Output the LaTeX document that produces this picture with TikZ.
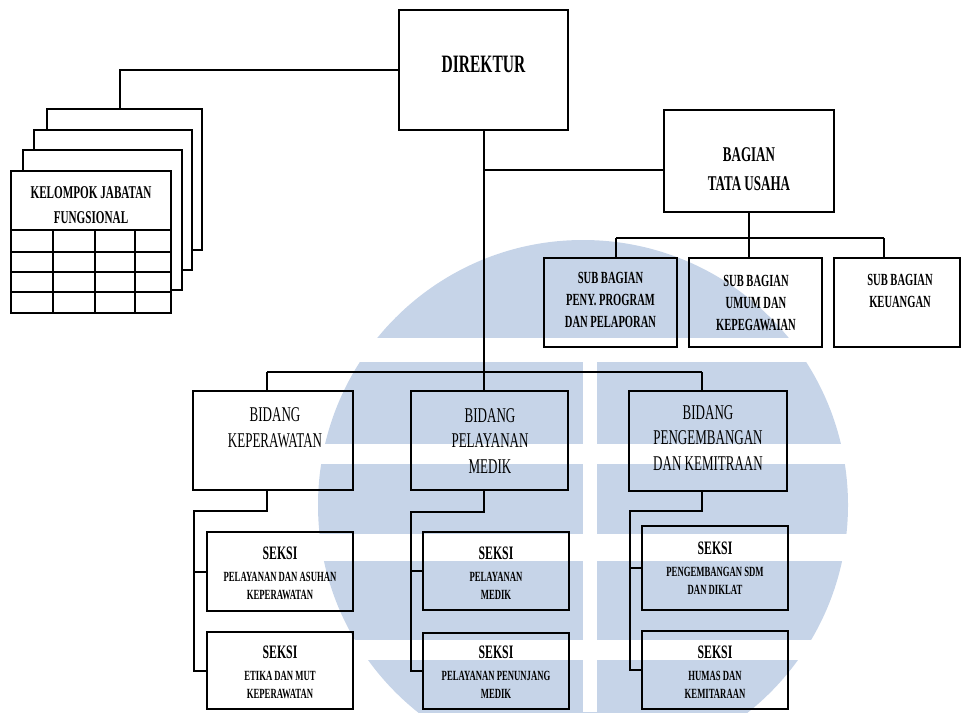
\documentclass[tikz,border=0pt]{standalone}
\usepackage{fontspec}
\newfontfamily\cf{Liberation Serif}[FakeStretch=0.62]
\definecolor{wm}{RGB}{198,212,232}
\begin{document}
\begin{tikzpicture}[x=1pt,y=-1pt,line width=2pt,
  box/.style={draw,line width=2pt,inner sep=0pt,outer sep=0pt},
  sheet/.style={box,fill=white},
  conn/.style={line width=2pt},
  txt/.style={inner sep=0pt,align=center},
  tDir/.style={txt,font=\cf\bfseries\fontsize{25}{30}\selectfont},
  tTU/.style={txt,font=\cf\bfseries\fontsize{21}{29}\selectfont},
  tKel/.style={txt,font=\cf\bfseries\fontsize{18}{25}\selectfont},
  tSub/.style={txt,font=\cf\bfseries\fontsize{17}{22}\selectfont},
  tBid/.style={txt,font=\cf\fontsize{21}{25.5}\selectfont},
  tSek/.style={txt,font=\cf\bfseries\fontsize{14}{18}\selectfont}]
\useasboundingbox (0,0) rectangle (963,712);
% watermark
\begin{scope}
  \clip (0,0) rectangle (963,712);
  \fill[wm] (583,505) circle[radius=265pt];
  \fill[white] (0,338) rectangle (963,362);
  \fill[white] (0,444) rectangle (963,464);
  \fill[white] (0,534) rectangle (963,561);
  \fill[white] (0,640) rectangle (963,660);
  \fill[white] (583,362) rectangle (597,712);
\end{scope}
% stacked sheets
\node[sheet,minimum width=155pt,minimum height=141pt] (s4) at (124.5,179.5) {};
\node[sheet,minimum width=158pt,minimum height=140pt] (s3) at (113,200) {};
\node[sheet,minimum width=159pt,minimum height=140pt] (s2) at (102.5,220) {};
\node[sheet,minimum width=160pt,minimum height=142pt] (s1) at (91,242) {};
\draw (11,230) -- (171,230);
\draw (11,252) -- (171,252);
\draw (11,272) -- (171,272);
\draw (11,292) -- (171,292);
\draw (53,230) -- (53,313);
\draw (95,230) -- (95,313);
\draw (135,230) -- (135,313);
\node[tKel] (kelT) at (91,205.5) {KELOMPOK JABATAN\\FUNGSIONAL};
% boxes
\node[box,minimum width=169pt,minimum height=120pt] (dir) at (483.5,70) {};
\node[tDir] (dirT) at (483.5,64) {DIREKTUR};
\node[box,minimum width=170pt,minimum height=102pt] (tu) at (749,161) {};
\node[tTU] (tuT) at (749,169.5) {BAGIAN\\TATA USAHA};
\node[box,minimum width=133pt,minimum height=89pt] (sb1) at (610.5,302.5) {};
\node[box,minimum width=133pt,minimum height=89pt] (sb2) at (755.5,302.5) {};
\node[box,minimum width=126pt,minimum height=89pt] (sb3) at (897,302.5) {};
\node[tSub] (sb1T) at (610.5,300) {SUB BAGIAN\\PENY. PROGRAM\\DAN PELAPORAN};
\node[tSub] (sb2T) at (756,302.5) {SUB BAGIAN\\UMUM DAN\\KEPEGAWAIAN};
\node[tSub] (sb3T) at (900,291) {SUB BAGIAN\\KEUANGAN};
\node[box,minimum width=160pt,minimum height=99pt] (bd1) at (273,440.5) {};
\node[box,minimum width=157pt,minimum height=99pt] (bd2) at (489.5,440.5) {};
\node[box,minimum width=158pt,minimum height=100pt] (bd3) at (708,441) {};
\node[tBid] (bd1T) at (275,427.5) {BIDANG\\KEPERAWATAN};
\node[tBid] (bd2T) at (490,441) {BIDANG\\PELAYANAN\\MEDIK};
\node[tBid] (bd3T) at (708,438) {BIDANG\\PENGEMBANGAN\\DAN KEMITRAAN};
\node[box,minimum width=146pt,minimum height=79pt] (sk11) at (280,571.5) {};
\node[box,minimum width=146pt,minimum height=77pt] (sk12) at (280,670.5) {};
\node[box,minimum width=146pt,minimum height=78pt] (sk21) at (496,571) {};
\node[box,minimum width=146pt,minimum height=76pt] (sk22) at (496,671) {};
\node[box,minimum width=146pt,minimum height=84pt] (sk31) at (715,568) {};
\node[box,minimum width=146pt,minimum height=78pt] (sk32) at (715,670) {};
\node[tSek] (sk11T) at (280,573) {{\fontsize{19}{19}\selectfont SEKSI}\\[4.3pt]PELAYANAN DAN ASUHAN\\KEPERAWATAN};
\node[tSek] (sk12T) at (280,672) {{\fontsize{19}{19}\selectfont SEKSI}\\[4.3pt]ETIKA DAN MUT\\KEPERAWATAN};
\node[tSek] (sk21T) at (496,573) {{\fontsize{19}{19}\selectfont SEKSI}\\[4.3pt]PELAYANAN\\MEDIK};
\node[tSek] (sk22T) at (496,672) {{\fontsize{19}{19}\selectfont SEKSI}\\[4.3pt]PELAYANAN PENUNJANG\\MEDIK};
\node[tSek] (sk31T) at (715,568) {{\fontsize{19}{19}\selectfont SEKSI}\\[4.3pt]PENGEMBANGAN SDM\\DAN DIKLAT};
\node[tSek] (sk32T) at (715,672) {{\fontsize{19}{19}\selectfont SEKSI}\\[4.3pt]HUMAS DAN\\KEMITARAAN};
% connectors
\coordinate (kf) at (120,70);
\coordinate (jTU) at (484,170);
\coordinate (jBd) at (484,372);
\coordinate (jS) at (749,238);
\coordinate (h1) at (616,238);
\coordinate (h3) at (884,238);
\coordinate (b1) at (267,372);
\coordinate (b3) at (702,372);
\coordinate (e1) at (267,511);
\coordinate (v1) at (194,511);
\coordinate (e2) at (484,512);
\coordinate (v2) at (411,512);
\coordinate (e3) at (702,511);
\coordinate (v3) at (630,511);
\draw[conn] (dir.west) -- (kf) -- (kf |- s4.north);
\draw[conn] (dir.south -| jBd) -- (jBd);
\draw[conn] (jTU) -- (jTU -| tu.west);
\draw[conn] (tu.south) -- (jS);
\draw[conn] (h1) -- (h3);
\draw[conn] (h1) -- (h1 |- sb1.north);
\draw[conn] (jS) -- (jS |- sb2.north);
\draw[conn] (h3) -- (h3 |- sb3.north);
\draw[conn] (b1) -- (b3);
\draw[conn] (b1) -- (b1 |- bd1.north);
\draw[conn] (jBd) -- (jBd |- bd2.north);
\draw[conn] (b3) -- (b3 |- bd3.north);
\draw[conn] (e1 |- bd1.south) -- (e1) -- (v1) -- (v1 |- sk12.west) -- (sk12.west);
\draw[conn] (v1 |- sk11.west) -- (sk11.west);
\draw[conn] (e2 |- bd2.south) -- (e2) -- (v2) -- (v2 |- sk22.west) -- (sk22.west);
\draw[conn] (v2 |- sk21.west) -- (sk21.west);
\draw[conn] (e3 |- bd3.south) -- (e3) -- (v3) -- (v3 |- sk32.west) -- (sk32.west);
\draw[conn] (v3 |- sk31.west) -- (sk31.west);
\end{tikzpicture}
\end{document}
